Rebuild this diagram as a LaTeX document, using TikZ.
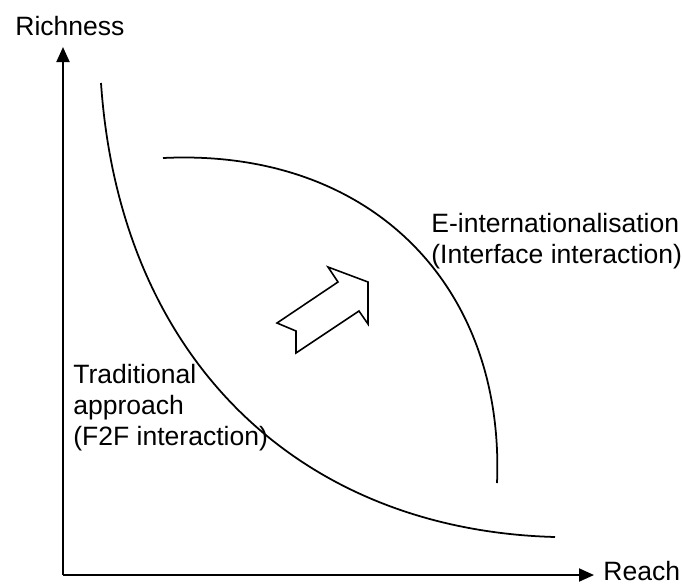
\documentclass[tikz,border=0pt]{standalone}
\usepackage{fontspec}
\setmainfont{Liberation Sans}
\usetikzlibrary{arrows.meta}

\begin{document}
\begin{tikzpicture}[x=0.02cm,y=-0.02cm,
        axis/.style={line width=1.1pt, -{Triangle[length=0.3cm,width=0.26cm]}},
        curve/.style={line width=1pt},
        label/.style={inner sep=0pt, font=\fontsize{15.1}{17.6}\selectfont},
        block/.style={label, align=left, anchor=north west}]
                \useasboundingbox (0,0) rectangle (682,586);
                \coordinate (o) at (63,575);
                \coordinate (ytip) at (63,47);
                \coordinate (xtip) at (594,575);
                \draw[axis] (o) -- (ytip);
                \draw[axis] (o) -- (xtip);
                \node[label, anchor=base west] (rich) at (15,35) {Richness};
                \node[label, anchor=base west] (reach) at (603,580) {Reach};
                \draw[curve] (101,83) .. controls (120,360) and (300,530) .. (555,537);
                \draw[curve] (163,158) .. controls (370,148) and (505,285) .. (497,483);
                \draw[line width=0.9pt, line join=miter] (328,267) -- (338,282) -- (277,323) -- (296,331)
                        -- (296,353) -- (359,311) -- (368,324) -- (368,282) -- cycle;
                \node[block] (trad) at (73,364) {Traditional\\approach\\(F2F interaction)};
                \node[block] (einter) at (431,213) {E-internationalisation\\(Interface interaction)};
            \end{tikzpicture}
\end{document}
